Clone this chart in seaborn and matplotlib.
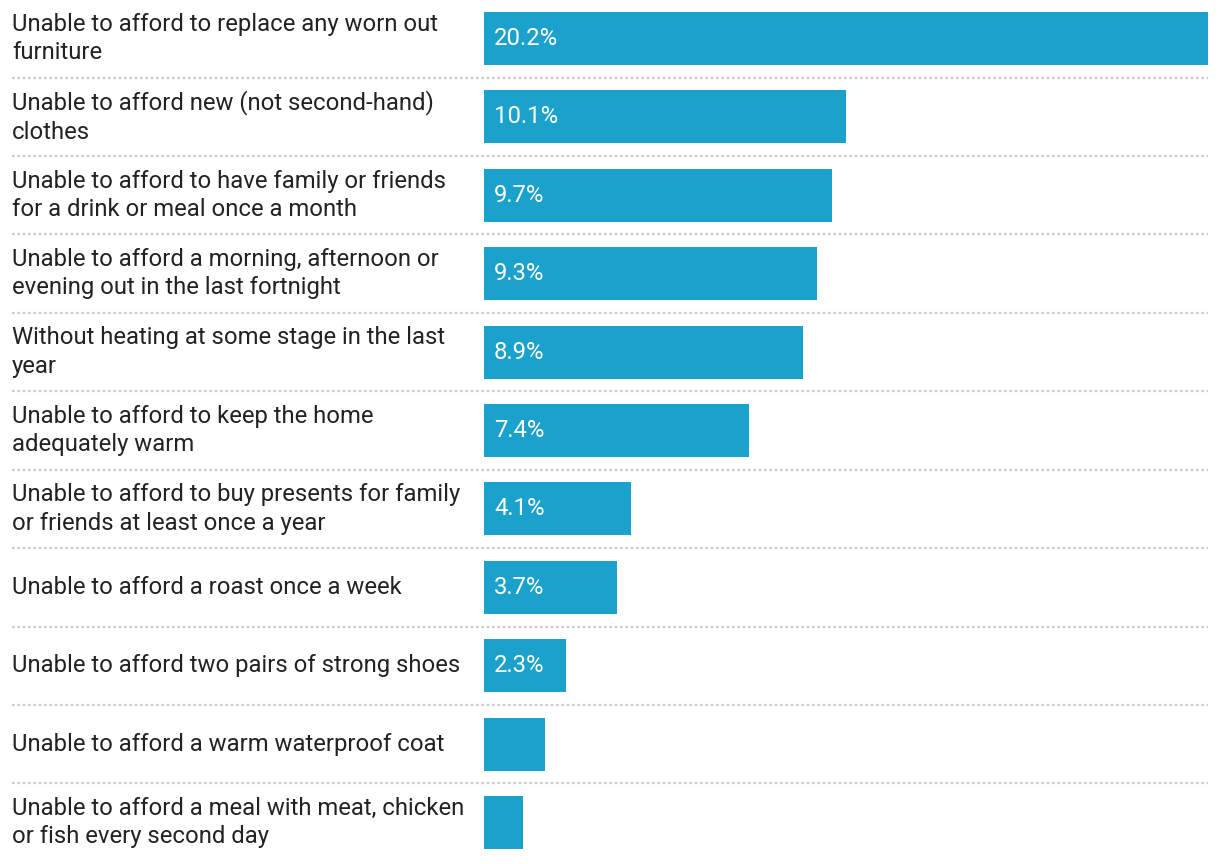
import matplotlib
matplotlib.use("Agg")
import matplotlib.pyplot as plt
import matplotlib.transforms as mtransforms
import seaborn as sns
import pandas as pd

categories = [
    "Unable to afford to replace any worn out\nfurniture",
    "Unable to afford new (not second-hand)\nclothes",
    "Unable to afford to have family or friends\nfor a drink or meal once a month",
    "Unable to afford a morning, afternoon or\nevening out in the last fortnight",
    "Without heating at some stage in the last\nyear",
    "Unable to afford to keep the home\nadequately warm",
    "Unable to afford to buy presents for family\nor friends at least once a year",
    "Unable to afford a roast once a week",
    "Unable to afford two pairs of strong shoes",
    "Unable to afford a warm waterproof coat",
    "Unable to afford a meal with meat, chicken\nor fish every second day",
]
values = [20.2, 10.1, 9.7, 9.3, 8.9, 7.4, 4.1, 3.7, 2.3, 1.7, 1.1]

sns.set_theme(style="white")
plt.rcParams["font.family"] = ["Roboto", "DejaVu Sans"]

W, H = 1220, 864
fig = plt.figure(figsize=(W / 100, H / 100), dpi=100)
left_px, right_px, top_px, bottom_px = 484, 1208, 12, 849
ax = fig.add_axes([left_px / W, 1 - bottom_px / H, (right_px - left_px) / W, (bottom_px - top_px) / H])

df = pd.DataFrame({"category": categories, "value": values})
bw = 0.676
sns.barplot(data=df, x="value", y="category", orient="h", color="#1aa1cc",
            saturation=1, width=bw, linewidth=0, ax=ax)

n = len(categories)
ax.set_xlim(0, max(values))
ax.set_ylim(n - 1 + bw / 2, -bw / 2)
ax.set_xlabel("")
ax.set_ylabel("")
ax.set_xticks([])
ax.set_yticks([])
for s in ax.spines.values():
    s.set_visible(False)

# category labels at the left
trans = mtransforms.blended_transform_factory(fig.transFigure, ax.transData)
for i, c in enumerate(categories):
    ax.text(12 / W, i, c, transform=trans, ha="left", va="center",
            fontsize=17.2, color="#222222", linespacing=1.3)

# value labels inside bars
offset = mtransforms.offset_copy(ax.transData, fig=fig, x=10, y=0, units="dots")
for i, v in enumerate(values):
    if v >= 2:
        ax.text(0, i, f"{v:.1f}%", transform=offset, ha="left", va="center",
                fontsize=17.2, color="white")

# dotted separators
xmin = (12 - left_px) / (right_px - left_px)
for i in range(n - 1):
    ax.axhline(i + 0.5, xmin=xmin, xmax=1.0, color="#cccccc", lw=1.6,
               linestyle=(0, (1.2, 1.2)), clip_on=False, zorder=0)

fig.savefig("out.png", dpi=100, facecolor="white")
